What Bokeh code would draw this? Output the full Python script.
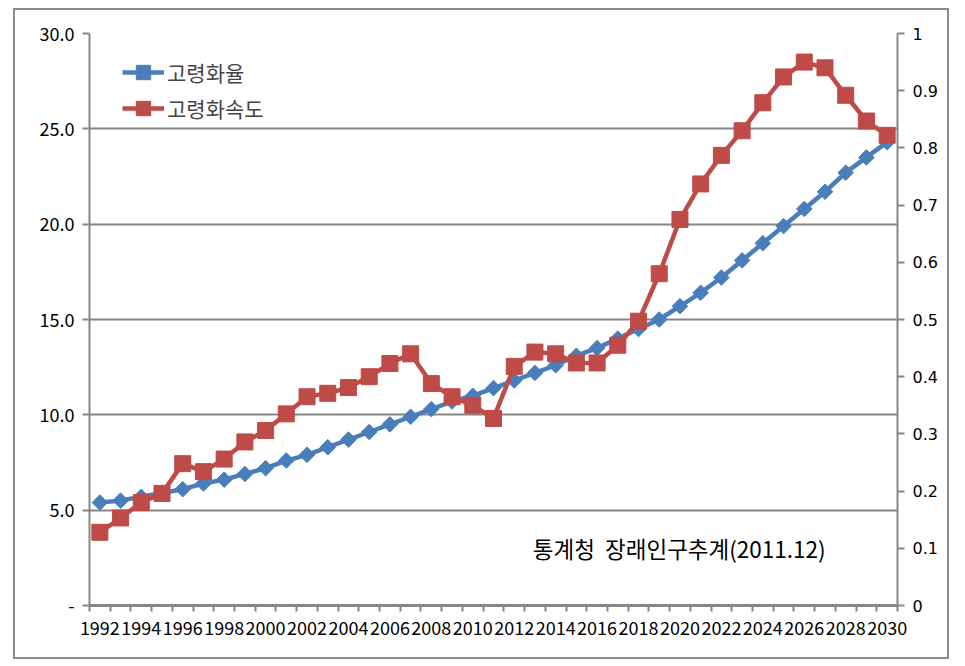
import math
from bokeh.plotting import figure
from bokeh.models import (Range1d, LinearAxis, FixedTicker, NumeralTickFormatter,
                          Legend, LegendItem, Label)
from bokeh.embed import file_html
from bokeh.resources import INLINE

years = list(range(1992, 2031))
aging_rate = [5.4, 5.5, 5.7, 5.9, 6.1, 6.4, 6.6, 6.9, 7.2, 7.6,
              7.9, 8.3, 8.7, 9.1, 9.5, 9.9, 10.3, 10.7, 11.0, 11.4,
              11.8, 12.2, 12.6, 13.1, 13.5, 14.0, 14.5, 15.0, 15.7, 16.4,
              17.2, 18.1, 19.0, 19.9, 20.8, 21.7, 22.7, 23.5, 24.3]
aging_speed = [0.128, 0.153, 0.180, 0.196, 0.248, 0.234, 0.256, 0.286, 0.306, 0.335,
               0.365, 0.371, 0.381, 0.400, 0.423, 0.440, 0.388, 0.365, 0.350, 0.327,
               0.418, 0.443, 0.440, 0.424, 0.424, 0.455, 0.497, 0.580, 0.675, 0.737,
               0.787, 0.830, 0.879, 0.924, 0.950, 0.940, 0.892, 0.847, 0.822]
left_ticks = [0, 5, 10, 15, 20, 25, 30]
right_ticks = [0, 0.1, 0.2, 0.3, 0.4, 0.5, 0.6, 0.7, 0.8, 0.9, 1.0]
label_years = list(range(1992, 2031, 2))
series_names = ["고령화율", "고령화속도"]
source_note = "통계청\u00a0\u00a0장래인구추계(2011.12)"

GRAY = "#868686"
BLUE = "#4A7EBB"
RED = "#BE4B48"
KFONT = "Noto Sans CJK KR"

p = figure(width=936, height=651, output_backend="svg", toolbar_location=None,
           x_range=Range1d(1991.5, 2030.5), y_range=Range1d(0, 30),
           min_border_left=74, min_border_right=54, min_border_top=23,
           min_border_bottom=56, x_axis_location=None, y_axis_location=None)
p.styles = {"border": "2px solid #8c8c8c", "margin-left": "13px", "margin-top": "8px"}
p.outline_line_color = None
p.background_fill_color = "white"
p.border_fill_color = "white"

p.extra_y_ranges = {"right": Range1d(0, 1)}

# left axis
ly = LinearAxis(ticker=FixedTicker(ticks=left_ticks),
                formatter=NumeralTickFormatter(format="0.0"))
ly.major_label_overrides = {0: "-"}
ly.axis_line_color = GRAY
ly.axis_line_width = 2
ly.major_tick_line_color = GRAY
ly.major_tick_line_width = 2
ly.major_tick_out = 7
ly.major_tick_in = 0
ly.minor_tick_line_color = None
ly.major_label_text_font = KFONT
ly.major_label_text_font_size = "18px"
ly.major_label_text_color = "black"
ly.major_label_standoff = 8
p.add_layout(ly, "left")

# right axis
ry = LinearAxis(y_range_name="right", ticker=FixedTicker(ticks=right_ticks),
                formatter=NumeralTickFormatter(format="0.[0]"))
ry.axis_line_color = GRAY
ry.axis_line_width = 2
ry.major_tick_line_color = GRAY
ry.major_tick_line_width = 2
ry.major_tick_out = 7
ry.major_tick_in = 0
ry.minor_tick_line_color = None
ry.major_label_text_font = "DejaVu Sans"
ry.major_label_text_font_size = "16px"
ry.major_label_text_color = "black"
ry.major_label_standoff = 8
p.add_layout(ry, "right")

# bottom axis
bx = LinearAxis(ticker=FixedTicker(ticks=label_years,
                                   minor_ticks=[y - 0.5 for y in years] + [years[-1] + 0.5]))
bx.axis_line_color = GRAY
bx.axis_line_width = 3
bx.major_tick_line_color = None
bx.major_tick_out = 6
bx.major_tick_in = 0
bx.minor_tick_line_color = GRAY
bx.minor_tick_line_width = 2
bx.minor_tick_out = 6
bx.minor_tick_in = 0
bx.major_label_text_font = KFONT
bx.major_label_text_font_size = "18px"
bx.major_label_text_color = "black"
bx.major_label_standoff = 9
p.add_layout(bx, "below")

p.xgrid.visible = False
p.ygrid.ticker = FixedTicker(ticks=left_ticks)
p.ygrid.grid_line_color = GRAY
p.ygrid.grid_line_width = 2

# series
bl = p.line(years, aging_rate, line_color=BLUE, line_width=4.5)
bs = p.scatter(years, aging_rate, marker="square", angle=math.pi / 4, size=11,
               fill_color=BLUE, line_color=BLUE)
rl = p.line(years, aging_speed, line_color=RED, line_width=4.5, y_range_name="right")
rs = p.scatter(years, aging_speed, marker="square", size=16, fill_color=RED,
               line_color=RED, y_range_name="right")

legend = Legend(items=[LegendItem(label=series_names[0], renderers=[bl, bs]),
                       LegendItem(label=series_names[1], renderers=[rl, rs])],
                location=(33, 479), glyph_width=42, glyph_height=36, label_height=36,
                spacing=0, padding=0, margin=0, label_standoff=3,
                border_line_color=None, background_fill_alpha=0,
                label_text_font=KFONT, label_text_font_size="21px")
p.add_layout(legend)

note = Label(x=2012.9, y=3.0, text=source_note, text_baseline="middle",
             text_font=KFONT, text_font_size="22.5px", text_color="black")
p.add_layout(note)

open("out.html", "w").write(file_html(p, INLINE))
